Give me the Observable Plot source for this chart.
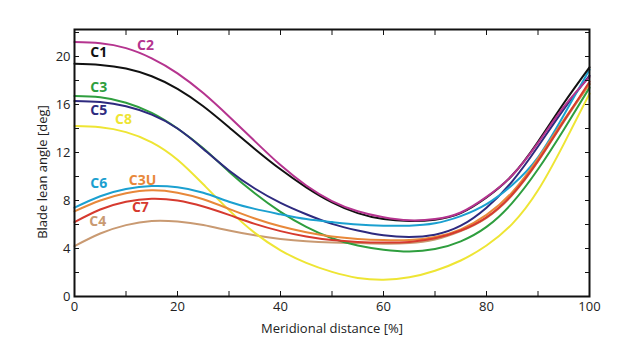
<!DOCTYPE html>
<html><head><meta charset="utf-8">
<script src="https://cdn.jsdelivr.net/npm/d3@7"></script>
<script src="https://cdn.jsdelivr.net/npm/@observablehq/plot@0.6"></script>
<style>body{margin:0;background:#fff}</style>
</head><body><div id="chart"></div>
<script>
const xs = [0,5,10,15,20,25,30,35,40,45,50,55,60,65,70,75,80,85,90,95,100];
const C4  = [4.2,5.25,5.95,6.3,6.25,5.95,5.5,5.1,4.8,4.6,4.5,4.45,4.4,4.45,4.75,5.45,6.55,8.45,11.25,14.55,17.7];
const C8  = [14.2,14.1,13.7,12.85,11.4,9.35,7.2,5.3,3.85,2.8,2.05,1.55,1.4,1.6,2.15,3.0,4.25,6.05,8.85,12.7,16.9];
const C3  = [16.7,16.6,16.15,15.3,14.0,12.35,10.4,8.6,7.05,5.8,4.85,4.25,3.9,3.75,3.95,4.6,5.8,7.8,10.6,13.9,17.4];
const C5  = [16.3,16.2,15.85,15.15,14.0,12.3,10.5,9.0,7.8,6.85,6.05,5.5,5.1,4.95,5.15,5.9,7.4,9.6,12.5,15.6,18.4];
const C6  = [7.4,8.35,8.95,9.2,9.1,8.65,7.9,7.3,6.85,6.45,6.2,6.0,5.9,5.9,6.1,6.7,7.7,9.3,11.6,15.1,18.9];
const C3U = [7.1,8.0,8.6,8.85,8.65,8.1,7.3,6.5,5.85,5.35,5.0,4.8,4.7,4.7,4.95,5.6,6.8,8.7,11.5,14.7,17.7];
const C7  = [6.2,7.25,7.9,8.15,8.0,7.5,6.8,6.05,5.45,5.0,4.7,4.55,4.5,4.55,4.85,5.5,6.6,8.5,11.3,14.6,17.9];
const C1  = [19.4,19.3,19.0,18.35,17.3,15.85,14.1,12.3,10.6,9.1,7.85,6.95,6.45,6.3,6.4,6.95,8.25,10.1,12.9,16.1,19.1];
const C2  = [21.2,21.1,20.7,19.85,18.6,16.95,15.0,12.95,10.95,9.25,7.95,7.1,6.6,6.35,6.45,7.0,8.3,10.1,12.8,15.8,18.3];

const seriesNames  = ["C4","C8","C3","C5","C6","C3U","C7","C1","C2"];
const seriesValues = [C4, C8, C3, C5, C6, C3U, C7, C1, C2];
const seriesColors = ["#c99a72","#eee534","#2e9e3e","#2e2a7f","#1ba0d0","#e8883a","#d63a2f","#111111","#b5348f"];

const labelNames = ["C2","C1","C3","C5","C8","C6","C3U","C7","C4"];
const labelX     = [13.8,4.7,4.7,4.7,9.5,4.7,13.2,12.8,4.5];
const labelY     = [20.9,20.3,17.4,15.5,14.75,9.4,9.7,7.4,6.25];

const xMajor = [0,20,40,60,80,100];
const xMinor = [10,20,30,40,50,60,70,80,90];
const yMajor = [0,4,8,12,16,20];
const yMinor = [2,4,6,8,10,12,14,16,18,20,22];

const data = seriesNames.flatMap((name, i) => seriesValues[i].map((v, j) => ({name, x: xs[j], y: v})));
const labels = labelNames.map((name, i) => ({name, x: labelX[i], y: labelY[i]}));

const font = "'Open Sans', 'DejaVu Sans', sans-serif";
const noText = () => "";

const chart = Plot.plot({
  width: 636, height: 350,
  marginLeft: 74, marginRight: 47, marginTop: 29, marginBottom: 54,
  style: {fontFamily: font, fontSize: "13px", color: "#222", background: "#fff"},
  x: {domain: [0, 100]},
  y: {domain: [0, 22.25]},
  color: {domain: seriesNames, range: seriesColors},
  marks: [
    Plot.line(data, {x: "x", y: "y", z: "name", stroke: "name", strokeWidth: 2, curve: "natural"}),
    Plot.text(labels, {x: "x", y: "y", text: "name", fill: "name", fontWeight: "bold", fontSize: 14}),
    Plot.frame({stroke: "#111", strokeWidth: 2}),
    Plot.axisX(xMinor, {anchor: "bottom", tickSize: -5, tickFormat: noText, label: null, stroke: "#111"}),
    Plot.axisX(xMinor, {anchor: "top", tickSize: -5, tickFormat: noText, label: null, stroke: "#111"}),
    Plot.axisX(xMajor, {anchor: "bottom", tickSize: 0, tickPadding: 5, label: "Meridional distance [%]", labelAnchor: "center", labelArrow: "none", labelOffset: 36, fill: "#222"}),
    Plot.axisY(yMinor, {anchor: "left", tickSize: -5, tickFormat: noText, label: null, stroke: "#111"}),
    Plot.axisY(yMinor, {anchor: "right", tickSize: -5, tickFormat: noText, label: null, stroke: "#111"}),
    Plot.axisY(yMajor, {anchor: "left", tickSize: 0, tickPadding: 4, label: null, fill: "#222"}),
    Plot.text(["Blade lean angle [deg]"], {frameAnchor: "left", textAnchor: "middle", dx: -32, dy: 9, rotate: -90, fill: "#222", fontSize: 13})
  ]
});
document.getElementById("chart").appendChild(chart);
</script>
</body></html>
